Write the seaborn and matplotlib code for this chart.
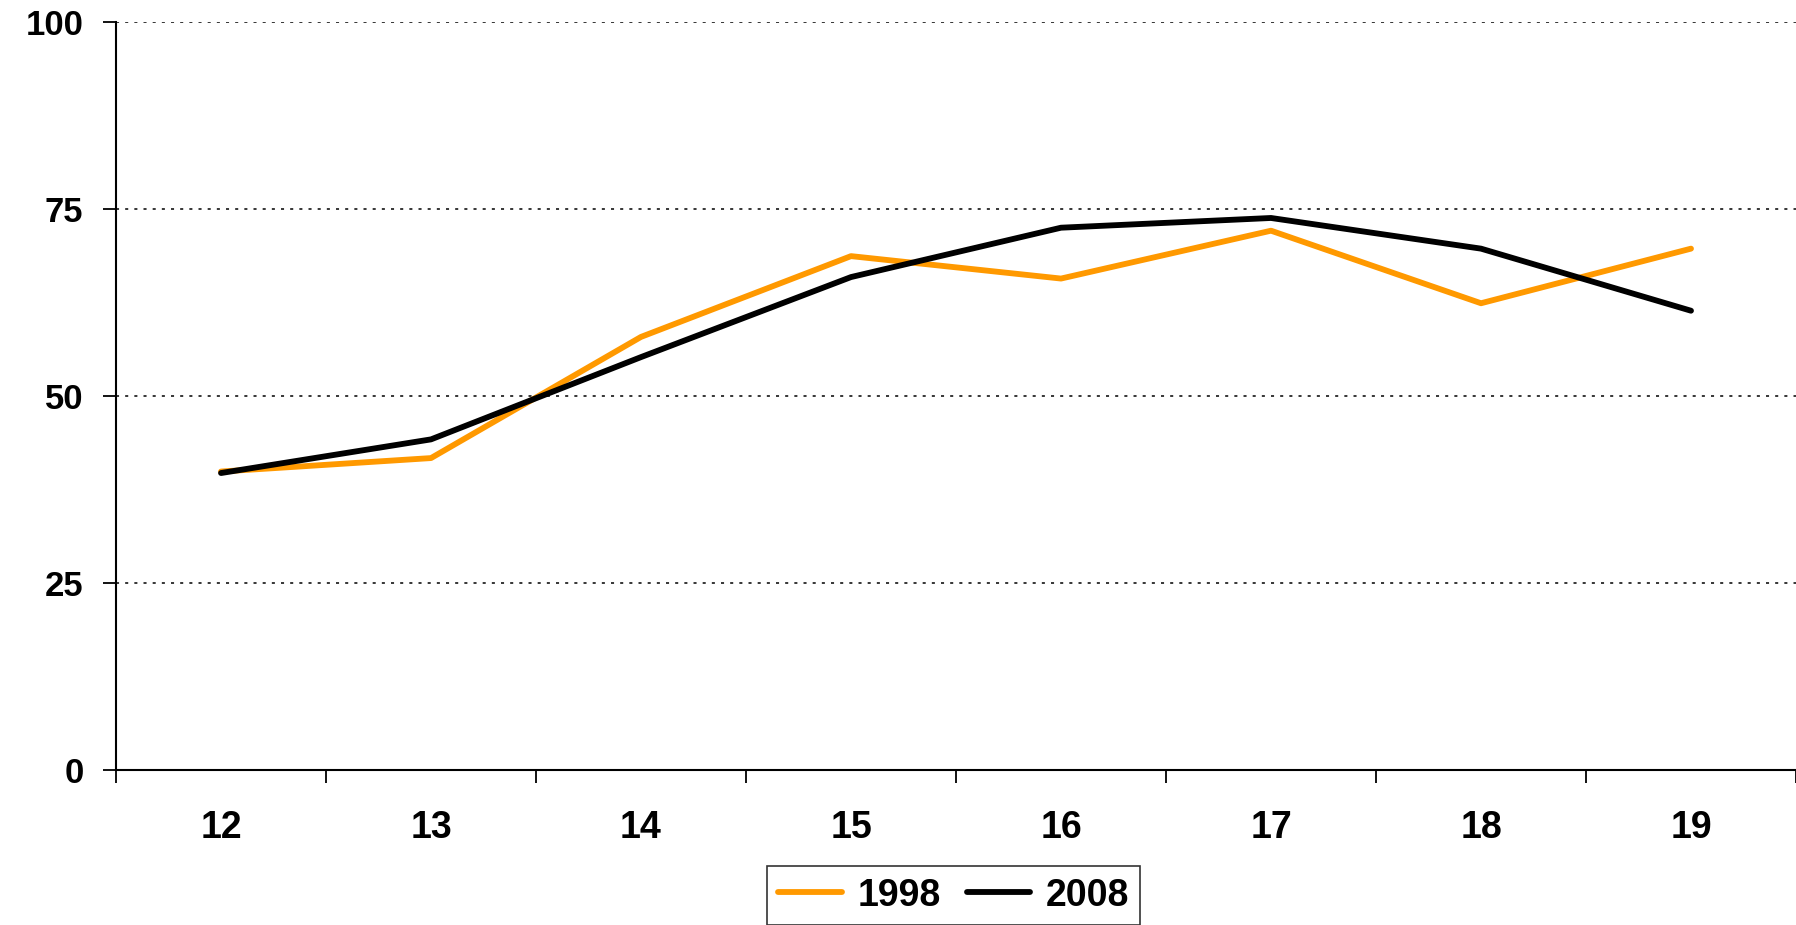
import pandas as pd
import matplotlib.pyplot as plt
import matplotlib.ticker as mticker
import seaborn as sns

# values
ages = [12, 13, 14, 15, 16, 17, 18, 19]
values_1998 = [39.9, 41.7, 57.9, 68.7, 65.7, 72.1, 62.4, 69.7]
values_2008 = [39.7, 44.2, 55.2, 65.9, 72.5, 73.8, 69.7, 61.4]
years = ['1998', '2008']
colors = {'1998': '#FF9900', '2008': '#000000'}

df = pd.concat([
    pd.DataFrame({'age': ages, 'value': values_1998, 'year': '1998'}),
    pd.DataFrame({'age': ages, 'value': values_2008, 'year': '2008'}),
])

sns.set_style('white')
plt.rcParams['font.family'] = ['Liberation Sans', 'DejaVu Sans']
plt.rcParams['font.weight'] = 'bold'
plt.rcParams['text.color'] = 'black'
plt.rcParams['xtick.color'] = 'black'
plt.rcParams['ytick.color'] = 'black'

fig = plt.figure(figsize=(17.96, 9.25), dpi=100)
ax = fig.add_axes([0.0646, 0.1676, 0.9354, 0.8086])

sns.lineplot(data=df, x='age', y='value', hue='year', hue_order=years,
             palette=colors, linewidth=4.2, ax=ax, legend=False)

ax.set_xlim(11.5, 19.5)
ax.set_ylim(0, 100)
ax.set_xlabel('')
ax.set_ylabel('')

# y axis
ax.yaxis.set_major_locator(mticker.MultipleLocator(25))
ax.tick_params(axis='y', direction='out', length=9.5, width=1.3,
               color='black', labelcolor='black', labelsize=25, pad=14, left=True)
for y in [25, 50, 75, 100]:
    ax.axhline(y, color='black', linewidth=1.1, linestyle=(0, (2, 4)), zorder=0)

# x axis: ticks between categories, labels at the centres
ax.xaxis.set_major_locator(mticker.FixedLocator([a - 0.5 for a in ages] + [19.5]))
ax.xaxis.set_major_formatter(mticker.NullFormatter())
ax.xaxis.set_minor_locator(mticker.FixedLocator(ages))
ax.xaxis.set_minor_formatter(mticker.FixedFormatter([str(a) for a in ages]))
ax.tick_params(axis='x', which='major', direction='out', length=9.5, width=1.3,
               color='black', bottom=True)
ax.tick_params(axis='x', which='minor', length=0, labelsize=27, labelcolor='black',
               pad=29, bottom=True)

for lbl in ax.get_xticklabels(minor=True) + ax.get_yticklabels():
    lbl.set_fontweight('bold')

sns.despine(ax=ax, top=True, right=True)
ax.spines['left'].set_color('black')
ax.spines['left'].set_linewidth(1.5)
ax.spines['bottom'].set_color('black')
ax.spines['bottom'].set_linewidth(1.5)
ax.spines['left'].set_zorder(3)

# legend below the plot
handles = [plt.Line2D([], [], color=colors[y], linewidth=4.2) for y in years]
leg = fig.legend(handles, years, loc='lower center', bbox_to_anchor=(0.531, -0.02),
                 ncol=2, frameon=True, fancybox=False, edgecolor='black',
                 prop={'size': 27, 'weight': 'bold'}, handlelength=1.7,
                 handletextpad=0.4, columnspacing=0.7, borderpad=0.3)
leg.get_frame().set_linewidth(1.2)

fig.savefig('out.png', dpi=100)
